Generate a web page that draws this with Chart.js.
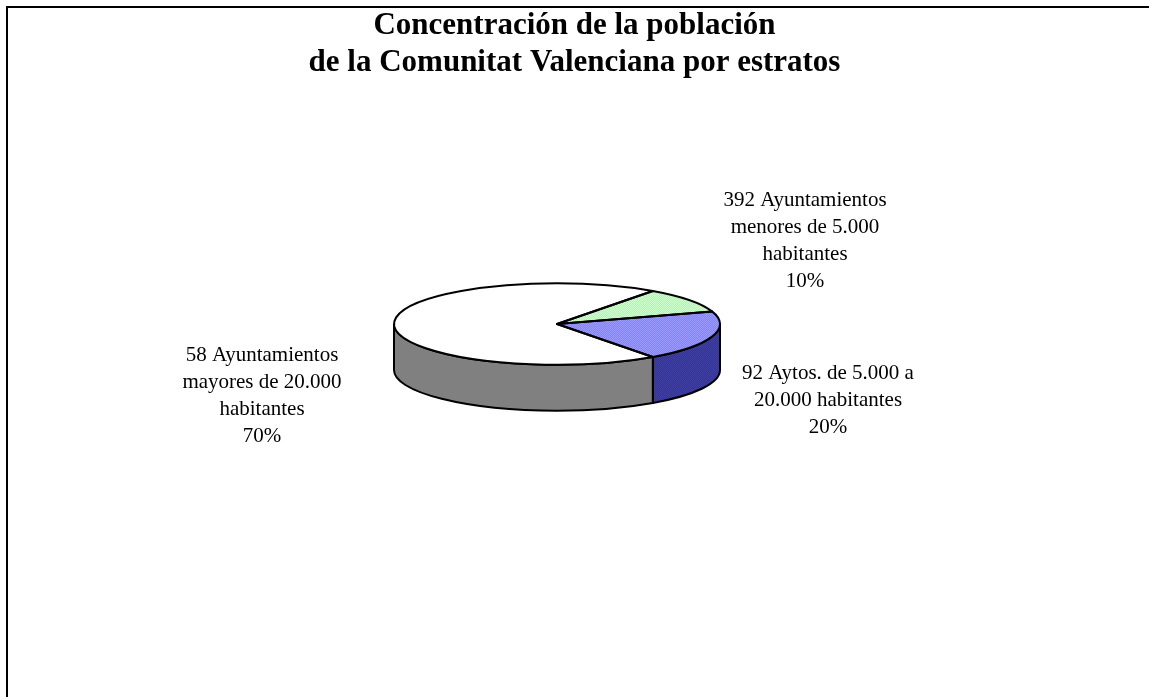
<!DOCTYPE html>
<html>
<head>
<meta charset="utf-8">
<script src="https://cdn.jsdelivr.net/npm/chart.js@4/dist/chart.umd.min.js"></script>
<style>
html,body{margin:0;padding:0;background:#fff;}
#wrap{position:relative;width:1149px;height:697px;}
</style>
</head>
<body>
<div id="wrap"><canvas id="c"></canvas></div>
<script>
// ---- data ----
const titleLines = ['Concentración de la población', 'de la Comunitat Valenciana por estratos'];
const categories = [
  ['392 Ayuntamientos', 'menores de 5.000', 'habitantes'],
  ['92 Aytos. de 5.000 a', '20.000 habitantes'],
  ['58 Ayuntamientos', 'mayores de 20.000', 'habitantes']
];
const values = [10, 20, 70];

// ---- styles ----
const TILT = 0.25, DEPTH = 46;
function dither(c1, c2) {
  const cv = document.createElement('canvas'); cv.width = 2; cv.height = 2;
  const x = cv.getContext('2d');
  x.fillStyle = c1; x.fillRect(0, 0, 2, 2);
  x.fillStyle = c2; x.fillRect(0, 0, 1, 1); x.fillRect(1, 1, 1, 1);
  return x.createPattern(cv, 'repeat');
}
const topFill = [dither('#ccffcc', '#b9f0b9'), dither('#9999ff', '#8585f5'), '#ffffff'];
topFill.forEach(p => { if (typeof p !== 'string') p.setTransform(new DOMMatrix().scale(1, 1 / TILT)); });
const sideFill = [dither('#66aa66', '#559955'), dither('#333399', '#40409e'), '#808080'];
// label anchor offsets from the pie centre (first line)
const labelOffsets = [[248, -124], [271, 49], [-295, 31]];

const pie3d = {
  id: 'pie3d',
  beforeDraw(chart) {
    const ctx = chart.ctx;
    ctx.save();
    ctx.fillStyle = '#000';
    ctx.fillRect(6, 6, chart.width - 6, 2);
    ctx.fillRect(6, 6, 2, chart.height - 6);
    // title
    ctx.font = 'bold 31px "Liberation Serif", "Times New Roman", serif';
    ctx.textAlign = 'center'; ctx.textBaseline = 'middle';
    titleLines.forEach((t, j) => ctx.fillText(t, chart.width / 2, 26 + j * 37));
    ctx.restore();
  },
  beforeDatasetsDraw(chart) {
    const ctx = chart.ctx;
    const arcs = chart.getDatasetMeta(0).data;
    const cx = arcs[0].x, cy = arcs[0].y, r = arcs[0].outerRadius, ry = r * TILT;
    ctx.save();
    ctx.lineWidth = 2; ctx.strokeStyle = '#000'; ctx.lineJoin = 'round';
    arcs.forEach((a, i) => {
      let s = a.startAngle, e = a.endAngle;
      for (let n = -2; n <= 2; n++) {
        const lo = Math.max(s, n * 2 * Math.PI), hi = Math.min(e, n * 2 * Math.PI + Math.PI);
        if (hi > lo) {
          ctx.beginPath();
          ctx.ellipse(cx, cy, r, ry, 0, lo, hi);
          ctx.lineTo(cx + r * Math.cos(hi), cy + DEPTH + ry * Math.sin(hi));
          ctx.ellipse(cx, cy + DEPTH, r, ry, 0, hi, lo, true);
          ctx.closePath();
          ctx.fillStyle = sideFill[i];
          ctx.fill();
          ctx.stroke();
        }
      }
    });
    ctx.restore();
    ctx.save();
    ctx.translate(cx, cy); ctx.scale(1, TILT); ctx.translate(-cx, -cy);
  },
  afterDatasetsDraw(chart) {
    const ctx = chart.ctx;
    ctx.restore();
    const arcs = chart.getDatasetMeta(0).data;
    const cx = arcs[0].x, cy = arcs[0].y, r = arcs[0].outerRadius, ry = r * TILT;
    ctx.save();
    ctx.lineWidth = 2; ctx.strokeStyle = '#000'; ctx.lineJoin = 'round';
    arcs.forEach(a => {
      ctx.beginPath();
      ctx.moveTo(cx, cy);
      ctx.ellipse(cx, cy, r, ry, 0, a.startAngle, a.endAngle);
      ctx.closePath();
      ctx.stroke();
    });
    // labels
    const total = values.reduce((p, v) => p + v, 0);
    ctx.fillStyle = '#000';
    ctx.font = '21px "Liberation Serif", "Times New Roman", serif';
    ctx.textAlign = 'center'; ctx.textBaseline = 'middle';
    categories.forEach((lines, i) => {
      const all = lines.concat([Math.round(values[i] / total * 100) + '%']);
      const [dx, dy] = labelOffsets[i];
      all.forEach((t, j) => ctx.fillText(t, cx + dx, cy + dy + j * 27.3));
    });
    ctx.restore();
  }
};

new Chart(document.getElementById('c'), {
  type: 'pie',
  data: {
    labels: categories.map(l => l.join(' ')),
    datasets: [{
      data: values,
      backgroundColor: topFill,
      borderWidth: 0
    }]
  },
  options: {
    responsive: true,
    maintainAspectRatio: false,
    animation: false,
    rotation: 36,
    radius: 163,
    layout: { padding: { left: 0, right: 35, top: 81, bottom: 130 } },
    plugins: {
      legend: { display: false },
      tooltip: { enabled: false },
      title: { display: false }
    }
  },
  plugins: [pie3d]
});
</script>
</body>
</html>
